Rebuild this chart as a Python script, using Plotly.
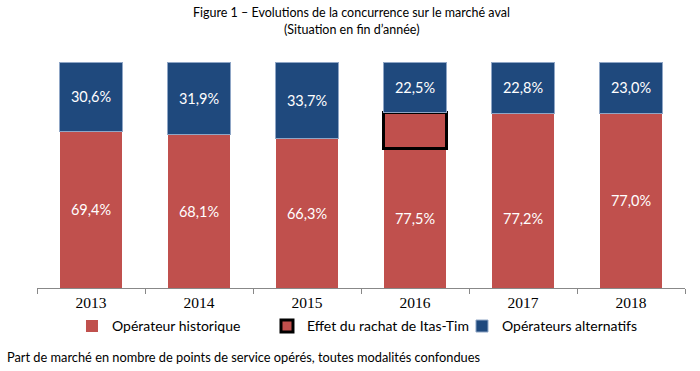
import plotly.graph_objects as go

years = ["2013", "2014", "2015", "2016", "2017", "2018"]
historique = [69.4, 68.1, 66.3, 77.5, 77.2, 77.0]
effet_rachat = [None, None, None, 15.7, None, None]
alternatifs = [30.6, 31.9, 33.7, 22.5, 22.8, 23.0]

RED = "#C0504D"
BLUE = "#1F497D"
FONT = "Lato"

def fmt(v):
    return f"{v:.1f}%".replace(".", ",")

base = [h - (e or 0) for h, e in zip(historique, effet_rachat)]
hist_text = [fmt(h) for h in historique]
# 2017 label sits lower in the original chart (placed as annotation)
hist_text_bar = [t if y != "2017" else "" for t, y in zip(hist_text, years)]

fig = go.Figure()
fig.add_trace(go.Bar(
    x=years, y=base, name="Opérateur historique",
    marker=dict(color=RED, line=dict(width=0)),
    text=hist_text_bar, textposition="inside", insidetextanchor="middle",
    textfont=dict(color="white", size=14.5, family=FONT),
    hoverinfo="skip",
))
fig.add_trace(go.Bar(
    x=years, y=effet_rachat, name="Effet du rachat de Itas-Tim",
    marker=dict(color=RED, line=dict(color="black", width=3)),
    hoverinfo="skip",
))
fig.add_trace(go.Bar(
    x=years, y=alternatifs, name="Opérateurs alternatifs",
    marker=dict(color=BLUE, line=dict(color="#8FA6C6", width=1)),
    text=[fmt(v) for v in alternatifs], textposition="inside", insidetextanchor="middle",
    textfont=dict(color="white", size=14.5, family=FONT),
    hoverinfo="skip",
))

i17 = years.index("2017")
i16 = years.index("2016")
fig.add_annotation(x=i17, y=base[i16] / 2, text=hist_text[i17], showarrow=False,
                   font=dict(color="white", size=14.5, family=FONT), xref="x", yref="y")

fig.add_annotation(x=-0.05, y=-0.305, xref="paper", yref="paper", xanchor="left", yanchor="middle",
                   text="Part de marché en nombre de points de service opérés, toutes modalités confondues",
                   showarrow=False, font=dict(size=12.8, family=FONT, color="black"))
fig.add_annotation(x=0.485, y=1.217, xref="paper", yref="paper", xanchor="center", yanchor="middle",
                   text="Figure 1 – Evolutions de la concurrence sur le marché aval",
                   showarrow=False, font=dict(size=12.5, family=FONT, color="black"))
fig.add_annotation(x=0.485, y=1.142, xref="paper", yref="paper", xanchor="center", yanchor="middle",
                   text="(Situation en fin d’année)",
                   showarrow=False, font=dict(size=12.5, family=FONT, color="black"))

fig.update_layout(
    barmode="stack",
    bargap=0.417,
    width=700, height=371,
    margin=dict(l=37, r=15, t=62, b=83),
    paper_bgcolor="white", plot_bgcolor="white",
    showlegend=True,
    legend=dict(orientation="h", x=0.054, xanchor="left", y=-0.17, yanchor="middle",
                entrywidth=150, entrywidthmode="pixels",
                font=dict(size=14, family=FONT, color="black"), traceorder="normal"),
    xaxis=dict(type="category", categoryorder="array", categoryarray=years,
               range=[-0.5, len(years) - 0.5], autorange=False,
               showline=True, linecolor="#888888", linewidth=1, ticks="outside",
               tickson="boundaries", ticklen=5, tickcolor="#888888",
               tickfont=dict(family="Liberation Serif", size=15.5, color="black"), fixedrange=True),
    yaxis=dict(range=[0, 100], visible=False, showgrid=False, fixedrange=True),
)

fig.write_html("out.html", config={"displayModeBar": False},
               post_script="document.body.style.margin='0';")
